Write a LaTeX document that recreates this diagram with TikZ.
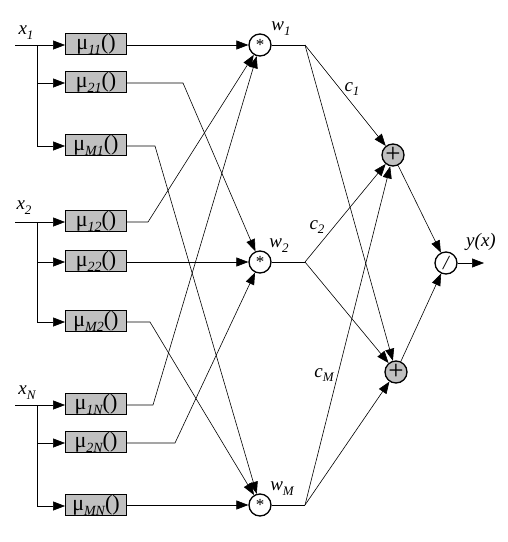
\documentclass[tikz,border=0pt]{standalone}
\usepackage{fontspec}
\setmainfont{Liberation Serif}
\usetikzlibrary{arrows.meta}
\definecolor{boxgray}{RGB}{192,192,192}
\newcommand{\lsub}[1]{\raisebox{-0.55ex}{\fontsize{13}{13}\selectfont\itshape #1}}
\newcommand{\bsub}[1]{\raisebox{-0.5ex}{\fontsize{14}{14}\selectfont\itshape #1}}
\newcommand{\mub}[1]{μ\bsub{#1}()}
\begin{document}
\begin{tikzpicture}[x=1pt,y=-1pt,
  mubox/.style={draw, line width=0.9pt, fill=boxgray, minimum width=61pt, minimum height=21pt, inner sep=0pt, font=\fontsize{22}{22}\selectfont},
  op/.style={circle, draw, line width=1.3pt, fill=white, minimum size=22pt, inner sep=0pt},
  sumop/.style={op, fill=boxgray},
  arr/.style={-{Triangle[length=12pt,width=9pt]}, line width=0.6pt},
  ln/.style={line width=0.6pt},
  lbl/.style={font=\fontsize{19}{19}\selectfont\itshape, inner sep=0pt}]
\useasboundingbox (0,0) rectangle (508,542);

% membership boxes
\node[mubox] (m11) at (96,44) {\mub{11}};
\node[mubox] (m21) at (96,82) {\mub{21}};
\node[mubox] (mM1) at (96,145) {\mub{M1}};
\node[mubox] (m12) at (96,221) {\mub{12}};
\node[mubox] (m22) at (96,261) {\mub{22}};
\node[mubox] (mM2) at (96,321) {\mub{M2}};
\node[mubox] (m1N) at (96,404) {\mub{1N}};
\node[mubox] (m2N) at (96,442) {\mub{2N}};
\node[mubox] (mMN) at (96,505) {\mub{MN}};

% operators
\node[op] (w1) at (260,45) {\fontsize{17}{17}\selectfont\raisebox{-0.35ex}{*}};
\node[op] (w2) at (260,262) {\fontsize{17}{17}\selectfont\raisebox{-0.35ex}{*}};
\node[op] (wM) at (260,505) {\fontsize{17}{17}\selectfont\raisebox{-0.35ex}{*}};
\node[sumop] (s1) at (393,155) {\fontsize{27}{27}\selectfont +};
\node[sumop] (s2) at (396,372) {\fontsize{27}{27}\selectfont +};
\node[op] (dv) at (446,263) {\fontsize{20}{20}\selectfont\itshape /};

% labels
\node[lbl] (lx1) at (26,33) {x\lsub{1}};
\node[lbl] (lx2) at (24,208) {x\lsub{2}};
\node[lbl] (lxN) at (27,393) {x\lsub{N}};
\node[lbl] (lw1) at (281,29) {w\lsub{1}};
\node[lbl] (lw2) at (279,246) {w\lsub{2}};
\node[lbl] (lwM) at (282,489) {w\lsub{M}};
\node[lbl] (lc1) at (352,89) {c\lsub{1}};
\node[lbl] (lc2) at (317,227) {c\lsub{2}};
\node[lbl] (lcM) at (324,375) {c\lsub{M}};
\node[lbl] (ly) at (481,242) {y(x)};

% inputs
\coordinate (i1) at (15,45);  \coordinate (bus1) at (37,45);
\coordinate (i2) at (15,222); \coordinate (bus2) at (37,222);
\coordinate (iN) at (15,405); \coordinate (busN) at (37,405);
\draw[arr] (i1) -- (i1 -| m11.west);
\draw[arr] (bus1) |- ([yshift=-1pt]m21.west);
\draw[arr] (bus1) |- ([yshift=-1pt]mM1.west);
\draw[arr] (i2) -- (i2 -| m12.west);
\draw[arr] (bus2) |- ([yshift=-1pt]m22.west);
\draw[arr] (bus2) |- ([yshift=-1pt]mM2.west);
\draw[arr] (iN) -- (iN -| m1N.west);
\draw[arr] (busN) |- ([yshift=-1pt]m2N.west);
\draw[arr] (busN) |- ([yshift=-1pt]mMN.west);

% knots
\coordinate (k21) at (183,83);
\coordinate (kM1) at (155,146);
\coordinate (k12) at (148,222);
\coordinate (kM2) at (150,322);
\coordinate (k1N) at (153,405);
\coordinate (k2N) at (175,443);

\draw[arr] (i1 -| m11.east) -- (w1);
\draw[arr] (k21 -| m21.east) -- (k21) -- (w2);
\draw[arr] (kM1 -| mM1.east) -- (kM1) -- (wM);
\draw[arr] (k12 -| m12.east) -- (k12) -- (w1);
\draw[arr] (w2 -| m22.east) -- (w2);
\draw[arr] (kM2 -| mM2.east) -- (kM2) -- (wM);
\draw[arr] (k1N -| m1N.east) -- (k1N) -- (w1);
\draw[arr] (k2N -| m2N.east) -- (k2N) -- (w2);
\draw[arr] (wM -| mMN.east) -- (wM);

% branches
\coordinate (b1) at (305,45);
\coordinate (b2) at (305,262);
\coordinate (bM) at (305,505);
\draw[ln] (w1) -- (b1);
\draw[ln] (w2) -- (b2);
\draw[ln] (wM) -- (bM);
\draw[arr] (b1) -- (s1);
\draw[arr] (b1) -- (s2);
\draw[arr] (b2) -- (s1);
\draw[arr] (b2) -- (s2);
\draw[arr] (bM) -- (s1);
\draw[arr] (bM) -- (s2);
\draw[arr] (s1) -- (dv);
\draw[arr] (s2) -- (dv);
\coordinate (out) at (484,263);
\draw[arr] (dv) -- (out);
\end{tikzpicture}
\end{document}
